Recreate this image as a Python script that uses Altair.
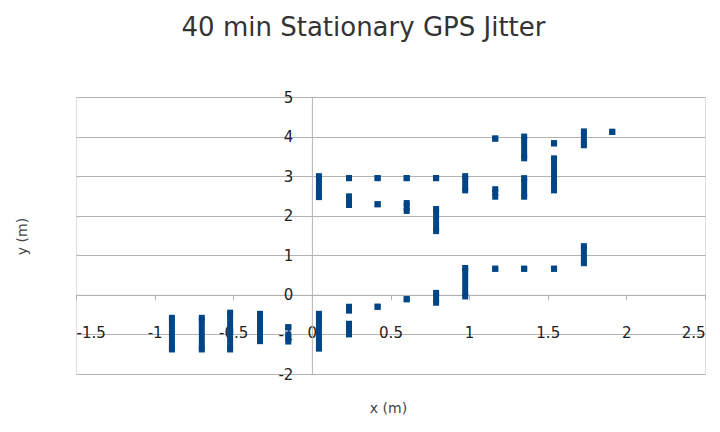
import altair as alt
import pandas as pd

# Vertical runs of GPS fixes: column x, top y, bottom y (dots have top == bottom)
seg_x = [-0.89, -0.70, -0.52, -0.33, -0.15, -0.15, 0.045,
         0.045, 0.236, 0.236, 0.418, 0.418, 0.603, 0.603, 0.79, 0.79, 0.975,
         1.166, 1.166, 1.35, 1.35, 1.54, 1.54, 1.73, 1.91,
         0.236, 0.236, 0.418, 0.603, 0.79, 0.975, 1.166, 1.35, 1.54, 1.73]
seg_top = [-0.58, -0.58, -0.45, -0.48, -0.82, -1.00, -0.48,
           3.00, 2.95, 2.49, 2.95, 2.29, 2.95, 2.32, 2.95, 2.17, 3.00,
           3.95, 2.67, 4.00, 2.95, 3.83, 3.45, 4.13, 4.12,
           -0.30, -0.73, -0.30, -0.11, 0.05, 0.68, 0.66, 0.66, 0.66, 1.23]
seg_bot = [-1.38, -1.38, -1.38, -1.17, -0.82, -1.18, -1.36,
           2.47, 2.95, 2.27, 2.95, 2.29, 2.95, 2.12, 2.95, 1.61, 2.64,
           3.95, 2.48, 3.45, 2.48, 3.83, 2.64, 3.78, 4.12,
           -0.40, -1.00, -0.30, -0.11, -0.20, -0.04, 0.66, 0.66, 0.66, 0.80]

x_ticks = [-1.5, -1.0, -0.5, 0.0, 0.5, 1.0, 1.5, 2.0, 2.5]
y_ticks = [-2, -1, 0, 1, 2, 3, 4, 5]

df = pd.DataFrame({"x": seg_x, "top": seg_top, "bot": seg_bot})

W, H = 629, 277
XD = [-1.5, 2.5]
YD = [-2, 5]
FONT = "DejaVu Sans"
BLUE = "#004586"
GRID = "#b3b3b3"

x_off = -H * (0 - YD[0]) / (YD[1] - YD[0])
y_off = -W * (0 - XD[0]) / (XD[1] - XD[0])

xs = alt.Scale(domain=XD, nice=False, zero=False)
ys = alt.Scale(domain=YD, nice=False, zero=False)

x_axis = alt.Axis(values=x_ticks, labelExpr="'' + datum.value", grid=False,
                  labelOverlap=False, offset=x_off, domainColor=GRID, tickColor=GRID,
                  tickSize=5, labelPadding=26, labelFont=FONT, labelFontSize=15,
                  labelColor="#222",
                  title="x (m)", titleFont=FONT, titleFontSize=14, titleFontWeight="normal",
                  titleColor="#444", titleX=312, titleY=114, titleBaseline="middle")
y_axis = alt.Axis(values=y_ticks, labelExpr="'' + datum.value", grid=True, gridColor=GRID,
                  labelOverlap=False, offset=y_off, domainColor=GRID, ticks=False,
                  labelPadding=19, labelFont=FONT, labelFontSize=15, labelColor="#222",
                  title="y (m)", titleFont=FONT, titleFontSize=14, titleFontWeight="normal",
                  titleColor="#444", titleX=-289, titleY=139, titleAngle=-90,
                  titleBaseline="middle")

X = alt.X("x:Q", scale=xs, axis=x_axis)

base = alt.Chart(df)
rules = base.mark_rule(color=BLUE, strokeWidth=6).encode(
    x=X,
    y=alt.Y("top:Q", scale=ys, axis=y_axis),
    y2="bot:Q",
)
tops = base.mark_square(color=BLUE, size=36, opacity=1).encode(
    x=X, y=alt.Y("top:Q", scale=ys, axis=y_axis))
bots = base.mark_square(color=BLUE, size=36, opacity=1).encode(
    x=X, y=alt.Y("bot:Q", scale=ys, axis=y_axis))

chart = alt.layer(rules, tops, bots).properties(
    width=W, height=H,
    title=alt.TitleParams("40 min Stationary GPS Jitter", font=FONT, fontSize=26,
                          fontWeight="normal", color="#333", anchor="middle",
                          frame="group", dx=-27, baseline="alphabetic", offset=28),
    autosize=alt.AutoSizeParams(type="none"),
    padding={"left": 68, "top": 89, "right": 7, "bottom": 50},
).configure_view(stroke=GRID, strokeWidth=1).configure(background="white")

chart.save("out.html", embed_options={"renderer": "svg", "actions": False})
